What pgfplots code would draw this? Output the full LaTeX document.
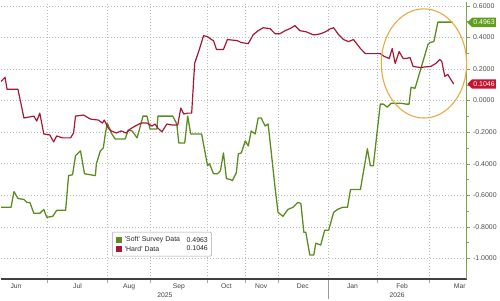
\documentclass[border=0pt]{standalone}
\usepackage{pgfplots}
\pgfplotsset{compat=1.18}
\usepackage{fontspec}
\setmainfont{Liberation Sans}
\usetikzlibrary{shapes.symbols}
\definecolor{softg}{RGB}{92,140,32}
\definecolor{hardr}{RGB}{168,22,52}
\definecolor{tagg}{RGB}{98,158,30}
\definecolor{tagr}{RGB}{196,20,48}
\definecolor{ell}{RGB}{232,170,64}
\begin{document}
\begin{tikzpicture}[x=1pt,y=1pt]
\begin{axis}[at={(0,0)},anchor=south west,scale only axis,width=469pt,height=279pt,
  xmin=0,xmax=469,ymin=-1.130,ymax=0.6245,
  axis x line*=bottom, axis y line*=right,
  x axis line style={draw=black!75,line width=2.2pt},
  y axis line style={draw=softg!80,line width=0.8pt},
  xtick={47,107,150,208,246,279,330,379,431}, xticklabels={},
  major x tick style={draw=none},
  ytick={-1,-0.8,-0.6,-0.4,-0.2,0,0.2,0.4,0.6},
  minor y tick num=1,
  tick align=outside, major tick length=3pt, minor tick length=2pt,
  y tick style={draw=softg!80},
  /pgf/number format/fixed, /pgf/number format/fixed zerofill,
  /pgf/number format/precision=4, /pgf/number format/assume math mode=true,
  yticklabel style={font=\fontsize{7}{8}\selectfont, text=black!70},
  xmajorgrids, ymajorgrids,
  grid style={gray!55, dash pattern=on 1pt off 2pt, line width=0.5pt},
]
\addplot[color=softg, line width=1.3pt, line join=round] coordinates {
(0,-0.677)(10,-0.677)(13,-0.577)(17,-0.621)(23,-0.627)(26,-0.646)(29,-0.646)(33,-0.715)(39,-0.715)(43,-0.690)(46,-0.740)(52,-0.734)(56,-0.696)(65,-0.696)(68,-0.476)(72,-0.470)(75,-0.350)(80,-0.319)(84,-0.464)(95,-0.476)(96,-0.401)(100,-0.319)(103,-0.300)(105,-0.212)(107,-0.143)(111,-0.206)(115,-0.244)(125,-0.244)(128,-0.187)(132,-0.193)(137,-0.237)(143,-0.099)(147,-0.099)(150,-0.181)(157,-0.181)(158,-0.099)(173,-0.099)(177,-0.149)(179,-0.269)(185,-0.269)(188,-0.099)(191,-0.212)(202,-0.212)(208,-0.413)(210,-0.401)(214,-0.464)(218,-0.464)(221,-0.445)(224,-0.332)(227,-0.495)(231,-0.501)(233,-0.508)(237,-0.457)(239,-0.338)(242,-0.332)(246,-0.256)(249,-0.288)(252,-0.193)(256,-0.212)(259,-0.111)(262,-0.111)(266,-0.162)(269,-0.149)(272,-0.319)(276,-0.552)(279,-0.709)(284,-0.734)(289,-0.690)(294,-0.677)(299,-0.646)(302,-0.652)(305,-0.835)(307,-0.835)(311,-0.979)(315,-0.979)(317,-0.904)(322,-0.916)(326,-0.822)(330,-0.822)(335,-0.709)(339,-0.690)(344,-0.677)(349,-0.677)(352,-0.564)(362,-0.564)(369,-0.306)(372,-0.413)(375,-0.413)(382,-0.023)(385,-0.023)(389,-0.042)(393,-0.017)(402,-0.017)(408,-0.023)(411,-0.023)(413,0.084)(417,0.077)(420,0.140)(425,0.247)(430,0.354)(432,0.367)(436,0.373)(440,0.4963)(455,0.4963)
};
\addplot[color=hardr, line width=1.2pt, line join=round] coordinates {
(0,0.121)(4,0.147)(6,0.071)(17,0.071)(23,-0.111)(33,-0.099)(36,-0.130)(39,-0.080)(43,-0.212)(49,-0.218)(53,-0.262)(56,-0.225)(62,-0.237)(70,-0.237)(73,-0.206)(75,-0.099)(83,-0.092)(90,-0.118)(98,-0.124)(102,-0.143)(104,-0.124)(108,-0.175)(111,-0.193)(116,-0.206)(121,-0.193)(126,-0.206)(130,-0.181)(135,-0.162)(141,-0.143)(147,-0.143)(152,-0.162)(155,-0.149)(158,-0.175)(162,-0.199)(167,-0.149)(172,-0.155)(178,-0.155)(181,-0.048)(184,-0.086)(188,-0.080)(192,-0.080)(195,0.235)(200,0.329)(204,0.411)(208,0.404)(212,0.386)(214,0.379)(217,0.323)(224,0.323)(228,0.386)(238,0.379)(242,0.367)(249,0.360)(254,0.417)(259,0.442)(264,0.461)(271,0.455)(276,0.423)(281,0.423)(286,0.442)(291,0.455)(296,0.474)(301,0.442)(307,0.436)(314,0.417)(317,0.417)(322,0.423)(327,0.436)(332,0.455)(335,0.461)(340,0.417)(345,0.386)(350,0.373)(355,0.386)(362,0.329)(367,0.297)(382,0.297)(386,0.279)(391,0.266)(394,0.329)(397,0.235)(401,0.310)(405,0.266)(408,0.266)(412,0.272)(415,0.216)(422,0.209)(433,0.216)(438,0.235)(442,0.260)(444,0.247)(447,0.153)(450,0.165)(453,0.134)(456,0.1046)
};
\end{axis}
% ellipse highlight
\draw[color=ell, line width=1.1pt] (426,217) ellipse [x radius=43, y radius=55];
% value tags
\node[signal, signal to=west, fill=tagg, text=white, font=\fontsize{7}{8}\selectfont, inner sep=1.3pt, anchor=west, minimum height=9.5pt] at (469.5,258.3) {0.4963};
\node[signal, signal to=west, fill=tagr, text=white, font=\fontsize{7}{8}\selectfont, inner sep=1.3pt, anchor=west, minimum height=9.5pt] at (469.5,196.3) {0.1046};
% month labels
\foreach \x/\m in {15/Jun,77/Jul,129/Aug,179/Sep,227/Oct,262/Nov,304/Dec,354/Jan,404/Feb,462/Mar}
  \node[font=\fontsize{6.8}{7}\selectfont, text=black!75] at (\x,-7.7) {\m};
\node[font=\fontsize{6.8}{7}\selectfont, text=black!75] at (165,-16.3) {2025};
\node[font=\fontsize{6.8}{7}\selectfont, text=black!75] at (399,-16.3) {2026};
\draw[gray!80, line width=0.5pt] (330,-1) -- (330,-20);
\foreach \x in {47,107,150,208,246,279,379,431}
  \draw[gray!70, line width=0.5pt] (\x,-1) -- (\x,-4);
% legend
\draw[gray!70, fill=white, rounded corners=1pt, line width=0.5pt] (112,23) rectangle (212,47);
\fill[softg] (116,36.5) rectangle (122,42.5);
\fill[hardr] (116,27.5) rectangle (122,33.5);
\node[anchor=west, inner sep=0, font=\fontsize{7}{8}\selectfont, text=black!85] at (124.5,39.5) {\textquotesingle Soft\textquotesingle{} Survey Data};
\node[anchor=west, inner sep=0, font=\fontsize{7}{8}\selectfont, text=black!85] at (124.5,30.5) {\textquotesingle Hard\textquotesingle{} Data};
\node[anchor=east, inner sep=0, font=\fontsize{7}{8}\selectfont, text=black!85] at (208.5,39.5) {0.4963};
\node[anchor=east, inner sep=0, font=\fontsize{7}{8}\selectfont, text=black!85] at (208.5,30.5) {0.1046};
\path[use as bounding box] (0,-20) rectangle (500,279);
\end{tikzpicture}
\end{document}
